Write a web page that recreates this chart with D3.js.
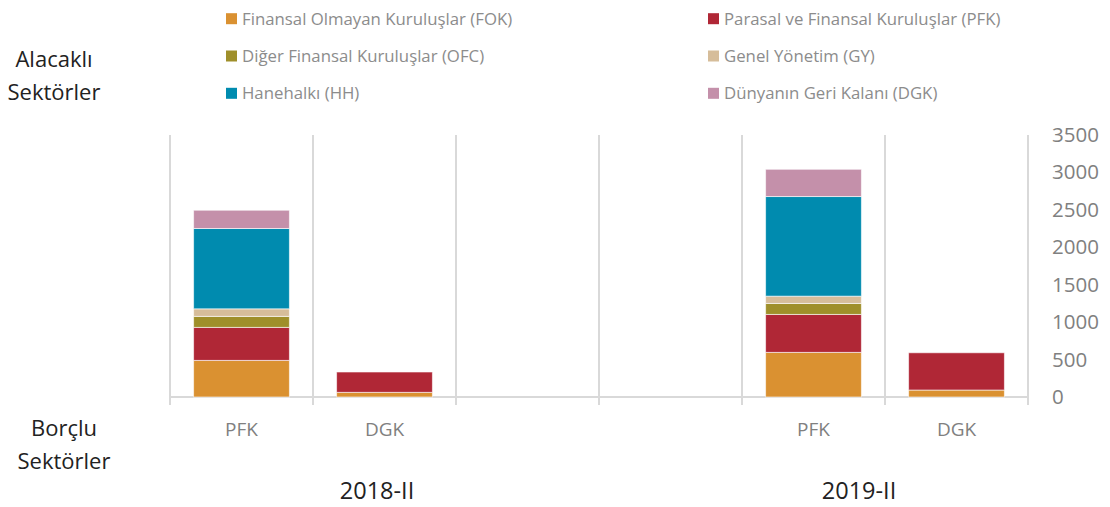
<!DOCTYPE html>
<html>
<head>
<meta charset="utf-8">
<script src="https://cdn.jsdelivr.net/npm/d3@7"></script>
<style>
  body { margin: 0; background: #fff; }
  svg { display: block; font-family: "Open Sans", sans-serif; }
</style>
</head>
<body>
<div id="chart"></div>
<script>
var svgWidth = 1110;
var svgHeight = 507;

// borrower sector slots, two periods with two empty slots between
var categories = ["PFK", "DGK", "", "", "PFK", "DGK"];
var periods = ["2018-II", "2019-II"];
var yTicks = [0, 500, 1000, 1500, 2000, 2500, 3000, 3500];

// creditor sectors (stack order, bottom to top)
var seriesNames = ["Finansal Olmayan Kuruluşlar (FOK)", "Parasal ve Finansal Kuruluşlar (PFK)",
    "Diğer Finansal Kuruluşlar (OFC)", "Genel Yönetim (GY)",
    "Hanehalkı (HH)", "Dünyanın Geri Kalanı (DGK)"];
var seriesColors = ["#da9131", "#b02736", "#9f8f2a", "#d6bd9a", "#008baf", "#c490aa"];

var fok = [489, 62, 0, 0, 596, 93];
var pfk = [441, 272, 0, 0, 507, 498];
var ofc = [147, 0, 0, 0, 147, 0];
var gy  = [101, 0, 0, 0, 97, 0];
var hh  = [1073, 0, 0, 0, 1331, 0];
var dgk = [244, 0, 0, 0, 364, 0];

var seriesValues = [fok, pfk, ofc, gy, hh, dgk];

var rows = categories.map(function(c, i) {
    var r = { idx: i };
    seriesNames.forEach(function(s, j) { r[s] = seriesValues[j][i]; });
    return r;
});

var svg = d3.select("#chart")
    .append("svg")
    .attr("width", svgWidth)
    .attr("height", svgHeight);

var x = d3.scaleBand()
    .domain(d3.range(categories.length))
    .range([170, 1028])
    .paddingInner(0.33)
    .paddingOuter(0.165);

var y = d3.scaleLinear()
    .domain([0, 3500])
    .range([397, 135]);

var gridColor = "#d9d9d9";

// category separators
var sepX = d3.range(categories.length + 1).map(function(i) { return x.range()[0] + i * x.step(); });
svg.append("g").selectAll("line")
    .data(sepX)
    .enter().append("line")
    .attr("x1", d => d).attr("x2", d => d)
    .attr("y1", y(3500)).attr("y2", y(0) + 8)
    .attr("stroke", gridColor)
    .attr("stroke-width", 2);

svg.append("line")
    .attr("x1", x.range()[0]).attr("x2", x.range()[1])
    .attr("y1", y(0)).attr("y2", y(0))
    .attr("stroke", gridColor)
    .attr("stroke-width", 2);

// stacked bars
var stack = d3.stack().keys(seriesNames)(rows);

svg.append("g").selectAll("g")
    .data(stack)
    .enter().append("g")
    .attr("fill", (d, i) => seriesColors[i])
    .selectAll("rect")
    .data(d => d.filter(p => p[1] - p[0] > 0))
    .enter().append("rect")
    .attr("x", d => x(d.data.idx))
    .attr("width", x.bandwidth())
    .attr("y", d => y(d[1]))
    .attr("height", d => y(d[0]) - y(d[1]))
    .attr("stroke", "rgba(255,255,255,0.6)")
    .attr("stroke-width", 1);

// right axis
var yAxis = svg.append("g")
    .attr("transform", "translate(1046,0)")
    .call(d3.axisRight(y).tickValues(yTicks).tickSize(0).tickPadding(6).tickFormat(d3.format("d")));
yAxis.select(".domain").remove();
yAxis.selectAll("text")
    .attr("font-size", 20.5)
    .attr("font-family", "Open Sans, sans-serif")
    .attr("fill", "#808080");

// category labels
svg.append("g").selectAll("text")
    .data(categories)
    .enter().append("text")
    .attr("x", (d, i) => x(i) + x.bandwidth() / 2)
    .attr("y", 436)
    .attr("text-anchor", "middle")
    .attr("font-size", 19)
    .attr("fill", "#808080")
    .text(d => d);

// period labels
var periodX = [377, 859];
svg.append("g").selectAll("text")
    .data(periods)
    .enter().append("text")
    .attr("x", (d, i) => periodX[i])
    .attr("y", 499)
    .attr("text-anchor", "middle")
    .attr("font-size", 23.5)
    .attr("fill", "#222")
    .text(d => d);

// side titles
function sideTitle(lines, cx, y0) {
    svg.append("g").selectAll("text")
        .data(lines)
        .enter().append("text")
        .attr("x", cx)
        .attr("y", (d, i) => y0 + i * 33)
        .attr("text-anchor", "middle")
        .attr("font-size", 22)
        .attr("fill", "#222")
        .text(d => d);
}
sideTitle(["Alacaklı", "Sektörler"], 54, 67);
sideTitle(["Borçlu", "Sektörler"], 64, 436);

// legend
var legendColX = [226, 708];
var legend = svg.append("g").selectAll("g")
    .data(seriesNames)
    .enter().append("g")
    .attr("transform", (d, i) => "translate(" + legendColX[i % 2] + "," + (18.7 + Math.floor(i / 2) * 37.3) + ")");

legend.append("rect")
    .attr("x", 0).attr("y", -5.5)
    .attr("width", 11).attr("height", 11)
    .attr("fill", (d, i) => seriesColors[i]);

legend.append("text")
    .attr("x", 16)
    .attr("y", 6)
    .attr("font-size", 16.8)
    .attr("fill", "#8c8c8c")
    .text(d => d);
</script>
</body>
</html>
